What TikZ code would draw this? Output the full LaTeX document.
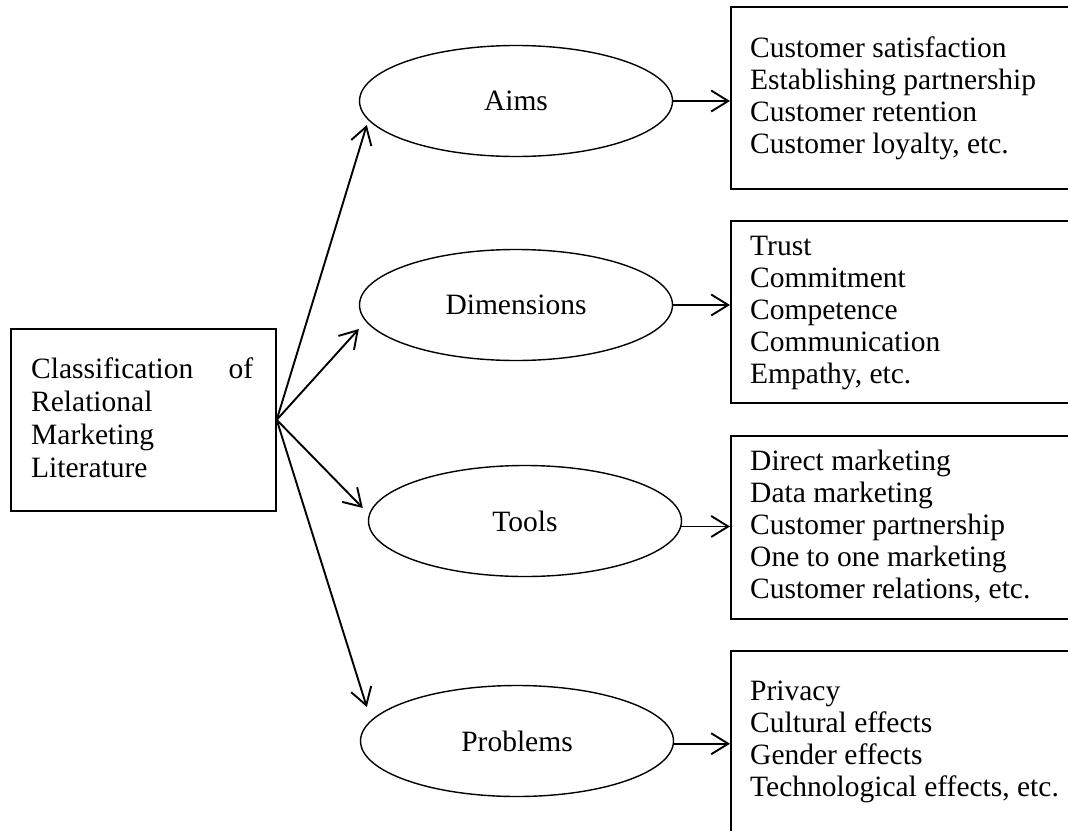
\documentclass[tikz,border=0pt]{standalone}
\usepackage{fontspec}
\setmainfont{Liberation Serif}
\usetikzlibrary{arrows.meta,shapes.geometric,calc}
\begin{document}
\begin{tikzpicture}[x=1pt,y=-1pt,
  every node/.style={font=\fontsize{29.5}{32}\selectfont},
  box/.style={draw, line width=1.7pt, rectangle, inner sep=0pt, anchor=north west},
  oval/.style={draw, ellipse, line width=1.4pt, inner sep=0pt, minimum width=313pt, minimum height=111pt, text depth=0pt},
  arr/.style={line width=1.9pt, -{Straight Barb[length=17pt,width=21pt]}},
  txt/.style={anchor=base west, inner sep=0pt}]
\useasboundingbox (0,0) rectangle (1068,830);
\clip (0,0) rectangle (1068,830);

% left box
\node[box, minimum width=265pt, minimum height=182pt] (c) at (10,328) {};
\node[txt] (c1) at (31,378) {\hbox to 222pt{Classification\hfill of}};
\node[txt] (c2) at (31,411) {Relational};
\node[txt] (c3) at (31,444) {Marketing};
\node[txt] (c4) at (31,477) {Literature};

% ellipses
\node[oval] (a1) at (516,101) {Aims};
\node[oval] (a2) at (516,305) {Dimensions};
\node[oval] (a3) at (525,521) {Tools};
\node[oval] (a4) at (517,741) {Problems};

% right boxes
\node[box, minimum width=360pt, minimum height=182pt] (b1) at (730,6) {};
\node[box, minimum width=360pt, minimum height=182pt] (b2) at (730,220) {};
\node[box, minimum width=360pt, minimum height=183pt] (b3) at (730,435) {};
\node[box, minimum width=360pt, minimum height=220pt] (b4) at (730,650) {};

\foreach \t [count=\i] in {Customer satisfaction, Establishing partnership, Customer retention, {Customer loyalty, etc.}}
  \node[txt] (p1-\i) at (750,{57+32*(\i-1)}) {\t};
\begin{scope}
\clip (730,220) rectangle (1068,390);
\foreach \t [count=\i] in {Trust, Commitment, Competence, Communication, {Empathy, etc.}}
  \node[txt] (p2-\i) at (750,{255+32*(\i-1)}) {\t};
\end{scope}
\foreach \t [count=\i] in {Direct marketing, Data marketing, Customer partnership, One to one marketing, {Customer relations, etc.}}
  \node[txt] (p3-\i) at (750,{470+32*(\i-1)}) {\t};
\foreach \t [count=\i] in {Privacy, Cultural effects, Gender effects, {Technological effects, etc.}}
  \node[txt] (p4-\i) at (750,{700+32*(\i-1)}) {\t};

% arrows from left box
\draw[arr] (c.east) -- ($(a1.west)+(8,24)$);
\draw[arr] (c.east) -- ($(a2.west)+(0,24)$);
\draw[arr] (c.east) -- ($(a3.west)+(-5,-13)$);
\draw[arr] (c.east) -- ($(a4.west)+(7,-34)$);

% arrows to right boxes
\draw[arr] (a1.east) -- (a1.east -| b1.west);
\draw[arr] (a2.east) -- (a2.east -| b2.west);
\draw[arr] (a3.358) -- (a3.358 -| b3.west);
\draw[arr] (a4.359) -- (a4.359 -| b4.west);
\end{tikzpicture}
\end{document}
